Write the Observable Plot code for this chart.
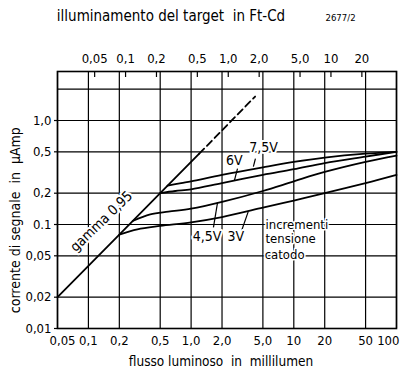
<!DOCTYPE html>
<html><head><meta charset="utf-8">
<script src="https://cdn.jsdelivr.net/npm/d3@7"></script>
<script src="https://cdn.jsdelivr.net/npm/@observablehq/plot@0.6"></script>
<style>body{margin:0;background:#fff} svg{display:block}</style>
</head><body><div id="chart"></div>
<script>
const FONT = '"Liberation Sans Narrow","DejaVu Sans Condensed",sans-serif';
const titleTop = "illuminamento del target  in Ft-Cd";
const figureCode = "2677/2";
const xLabel = "flusso luminoso  in  millilumen";
const yLabel = "corrente di segnale  in  µAmp";

const xTicks = [0.05, 0.1, 0.2, 0.5, 1, 2, 5, 10, 20, 50, 100];
const xTickLabels = ["0,05", "0,1", "0,2", "0,5", "1,0", "2,0", "5,0", "10", "20", "50", "100"];
const yTicks = [0.01, 0.02, 0.05, 0.1, 0.2, 0.5, 1];
const yTickLabels = ["0,01", "0,02", "0,05", "0.1", "0,2", "0,5", "1,0"];
const yGridExtra = [2];
const yMax = 2.96;
const topTicks = [0.05, 0.1, 0.2, 0.5, 1, 2, 5, 10, 20];
const topTickLabels = ["0,05", "0,1", "0,2", "0,5", "1,0", "2,0", "5,0", "10", "20"];
const millilumenPerFtCd = 2.3;

// gamma 0,95 line
const gammaX = [0.05, 0.2, 0.5, 1.2];
const gammaY = [0.02, 0.08, 0.2, 0.48];
const gammaDashX = [1.2, 4.2];
const gammaDashY = [0.48, 1.7];

// cathode voltage curves
const v3X  = [0.2, 0.3, 0.5, 1, 2, 5, 10, 20, 50, 100];
const v3Y  = [0.08, 0.09, 0.097, 0.105, 0.118, 0.145, 0.17, 0.2, 0.25, 0.3];
const v45X = [0.27, 0.4, 0.6, 1, 2, 5, 10, 20, 50, 100];
const v45Y = [0.108, 0.125, 0.133, 0.142, 0.165, 0.21, 0.26, 0.32, 0.4, 0.46];
const v6X  = [0.5, 0.7, 1, 2, 5, 10, 20, 50, 100];
const v6Y  = [0.2, 0.21, 0.218, 0.25, 0.3, 0.34, 0.39, 0.45, 0.5];
const v75X = [0.59, 0.8, 1, 2, 5, 10, 20, 50, 100];
const v75Y = [0.236, 0.25, 0.26, 0.3, 0.355, 0.4, 0.44, 0.48, 0.5];

// annotations
const curveLabels = ["7,5V", "6V", "4,5V", "3V"];
const curveLabelX = [5.07, 2.64, 1.43, 2.72];
const curveLabelY = [0.55, 0.41, 0.077, 0.077];
const leaderX1 = [4.23, 2.83, 1.65, 3.1];
const leaderY1 = [0.43, 0.345, 0.094, 0.087];
const leaderX2 = [4.04, 2.64, 1.81, 3.6];
const leaderY2 = [0.36, 0.265, 0.163, 0.133];
const noteLines = ["incrementi", "tensione", "catodo"];
const noteX = [5.3, 5.3, 5.2];
const noteY = [0.1, 0.0734, 0.0515];
const gammaLabel = "gamma 0,95";
const gammaLabelX = 0.134, gammaLabelY = 0.107;
const yLabelAt = 0.11;

const pts = (xs, ys) => xs.map((x, i) => ({x, y: ys[i]}));
const topPos = topTicks.map(t => t * millilumenPerFtCd);

const lineStyle = {x: "x", y: "y", stroke: "black", strokeWidth: 1.8, curve: "catmull-rom"};
const halo = {stroke: "white", strokeWidth: 4, fill: "black"};
const TICK_FS = 13;

const inner = xTicks.slice(1, -1), innerLab = xTickLabels.slice(1, -1);

const chart = Plot.plot({
  width: 400, height: 369,
  marginLeft: 57, marginRight: 4, marginTop: 71, marginBottom: 41,
  style: {fontFamily: FONT, fontSize: "13px", background: "white", color: "black"},
  x: {type: "log", domain: [0.05, 100], axis: null},
  y: {type: "log", domain: [0.01, yMax], axis: null},
  marks: [
    Plot.gridX(xTicks, {stroke: "black", strokeOpacity: 1, strokeWidth: 1.2}),
    Plot.gridY([...yTicks, ...yGridExtra], {stroke: "black", strokeOpacity: 1, strokeWidth: 1.2}),
    Plot.frame({stroke: "black", strokeWidth: 1.6}),
    Plot.ruleX(topPos, {x: d => d, stroke: "black", strokeWidth: 1.2, insetBottom: 251}),
    Plot.ruleY(yTicks, {y: d => d, stroke: "black", strokeWidth: 1.2, insetLeft: -3, insetRight: 339}),
    // bottom tick labels
    Plot.text(inner, {x: d => d, frameAnchor: "bottom", lineAnchor: "top", dy: 7, text: (d, i) => innerLab[i], fontSize: TICK_FS}),
    Plot.text([xTicks[0]], {x: d => d, frameAnchor: "bottom", lineAnchor: "top", dy: 7, dx: 5, text: () => xTickLabels[0], fontSize: TICK_FS}),
    Plot.text([xTicks[xTicks.length - 1]], {x: d => d, frameAnchor: "bottom", lineAnchor: "top", dy: 7, dx: 3, textAnchor: "end", text: () => xTickLabels[xTickLabels.length - 1], fontSize: TICK_FS}),
    // top tick labels
    Plot.text(topPos, {x: d => d, frameAnchor: "top", lineAnchor: "bottom", dy: -9, text: (d, i) => topTickLabels[i], fontSize: TICK_FS}),
    // left tick labels
    Plot.text(yTicks, {y: d => d, frameAnchor: "left", textAnchor: "end", lineAnchor: "middle", dx: -6, text: (d, i) => yTickLabels[i], fontSize: TICK_FS}),
    Plot.text([xLabel], {frameAnchor: "bottom", textAnchor: "middle", lineAnchor: "middle", dy: 33, dx: -6, fontSize: 13.5}),
    Plot.text([titleTop], {frameAnchor: "top", textAnchor: "middle", lineAnchor: "middle", dy: -55, dx: -56, fontSize: 15}),
    Plot.text([figureCode], {frameAnchor: "top-right", lineAnchor: "middle", dy: -54, dx: -71, textAnchor: "start", fontSize: 9.5}),
    Plot.text([yLabel], {y: () => yLabelAt, frameAnchor: "left", textAnchor: "middle", lineAnchor: "middle", rotate: -90, dx: -42, fontSize: 14}),
    Plot.line(pts(gammaX, gammaY), {x: "x", y: "y", stroke: "black", strokeWidth: 1.8}),
    Plot.line(pts(gammaDashX, gammaDashY), {x: "x", y: "y", stroke: "black", strokeWidth: 1.8, strokeDasharray: "7,4"}),
    Plot.line(pts(v3X, v3Y), lineStyle),
    Plot.line(pts(v45X, v45Y), lineStyle),
    Plot.line(pts(v6X, v6Y), lineStyle),
    Plot.line(pts(v75X, v75Y), lineStyle),
    Plot.link(curveLabels, {x1: (d, i) => leaderX1[i], y1: (d, i) => leaderY1[i], x2: (d, i) => leaderX2[i], y2: (d, i) => leaderY2[i], stroke: "black", strokeWidth: 1.2}),
    Plot.text(curveLabels, {x: (d, i) => curveLabelX[i], y: (d, i) => curveLabelY[i], text: d => d, fontSize: 14, ...halo}),
    Plot.text(noteLines, {x: (d, i) => noteX[i], y: (d, i) => noteY[i], text: d => d, textAnchor: "start", fontSize: 13, stroke: "white", strokeWidth: 3, fill: "black"}),
    Plot.text([gammaLabel], {x: () => gammaLabelX, y: () => gammaLabelY, text: d => d, rotate: -44, fontSize: 14, ...halo})
  ]
});
document.getElementById("chart").appendChild(chart);
</script>
</body></html>
